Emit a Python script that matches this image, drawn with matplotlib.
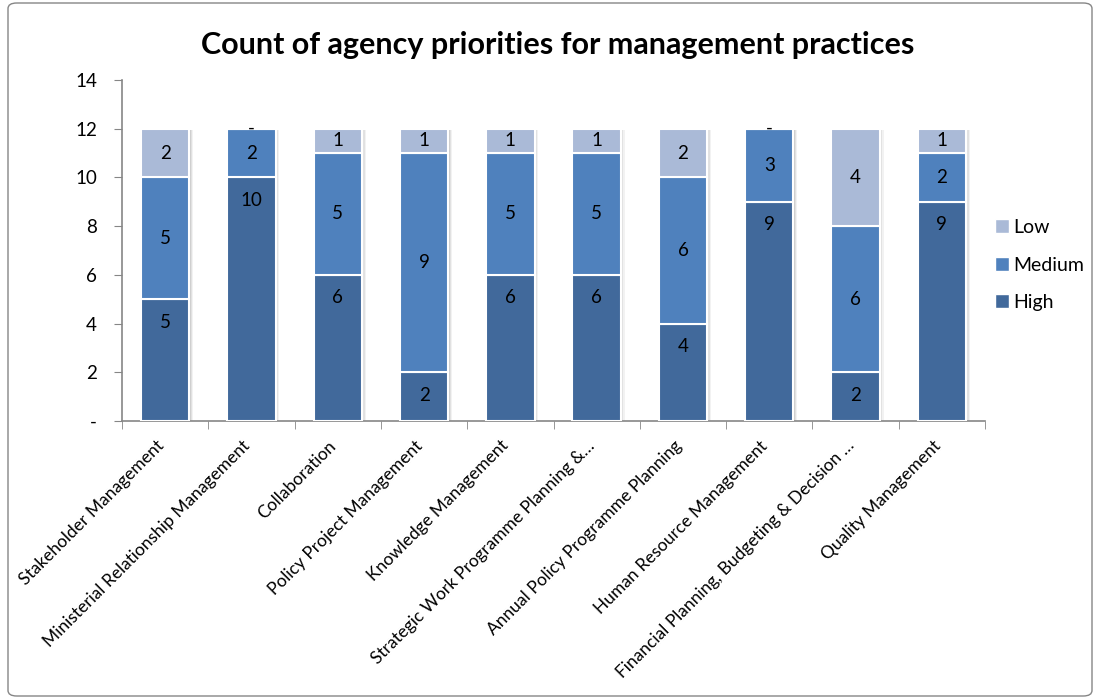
import matplotlib.pyplot as plt
import matplotlib.transforms as mtransforms
import numpy as np
from matplotlib.patches import FancyBboxPatch, Patch

plt.rcParams['font.family'] = ['Lato', 'DejaVu Sans']

categories = [
    "Stakeholder Management",
    "Ministerial Relationship Management",
    "Collaboration",
    "Policy Project Management",
    "Knowledge Management",
    "Strategic Work Programme Planning &\u2026",
    "Annual Policy Programme Planning",
    "Human Resource Management",
    "Financial Planning, Budgeting & Decision \u2026",
    "Quality Management",
]
high = [5, 10, 6, 2, 6, 6, 4, 9, 2, 9]
medium = [5, 2, 5, 9, 5, 5, 6, 3, 6, 2]
low = [2, 0, 1, 1, 1, 1, 2, 0, 4, 1]

# (name, values, colour, label placement)
series = [("High", high, "#41699b", "inside_end"),
          ("Medium", medium, "#4f81bd", "center"),
          ("Low", low, "#aabad7", "center")]

fig = plt.figure(figsize=(10.96, 6.99), dpi=100)
ax = fig.add_axes([122 / 1096, 1 - 421 / 699, (985 - 122) / 1096, (421 - 80) / 699])

x = np.arange(len(categories))
width = 0.56
totals = np.sum([high, medium, low], axis=0)

# soft drop shadow behind each stack
for dx, alpha in [(0.045, 0.10), (0.03, 0.15), (0.015, 0.2)]:
    ax.bar(x + dx, totals, width=width, bottom=-0.06, color="#808080", alpha=alpha,
           linewidth=0, zorder=2)

bottom = np.zeros(len(categories))
for name, vals, color, placement in series:
    vals = np.array(vals, dtype=float)
    ax.bar(x, vals, bottom=bottom, width=width, color=color, edgecolor="white",
           linewidth=1.5, label=name, zorder=3)
    for xi, b, v in zip(x, bottom, vals):
        txt = "-" if v == 0 else f"{int(v)}"
        if placement == "inside_end" and v > 0:
            ypos = b + v - 0.95
        else:
            ypos = b + v / 2
        ax.text(xi, ypos, txt, ha="center", va="center", fontsize=13.5, color="black", zorder=4)
    bottom += vals

ax.set_xlim(-0.5, len(categories) - 0.5)
ax.set_ylim(0, 14)
ax.set_yticks(range(0, 15, 2))
ax.set_yticklabels(["-"] + [str(v) for v in range(2, 15, 2)], fontsize=13.5)
ax.set_xticks(x)
ax.set_xticklabels(categories, rotation=45, ha="right", rotation_mode="anchor", fontsize=12.5)
ax.set_xticks(np.arange(-0.5, len(categories)), minor=True)
ax.tick_params(axis="x", which="major", length=0, pad=12)
ax.tick_params(axis="x", which="minor", length=6, color="#868686", direction="out")
ax.tick_params(axis="y", length=6, color="#868686", direction="out", pad=12)

# nudge the slanted category labels left so they end under the bar centres
shift = mtransforms.ScaledTranslation(-7 / 72, 0, fig.dpi_scale_trans)
for lbl in ax.get_xticklabels():
    lbl.set_transform(lbl.get_transform() + shift)

for side in ["top", "right"]:
    ax.spines[side].set_visible(False)
for side in ["left", "bottom"]:
    ax.spines[side].set_color("#868686")
    ax.spines[side].set_linewidth(1.2)

fig.text(558 / 1096, 1 - 45 / 699, "Count of agency priorities for management practices",
         ha="center", va="center", fontsize=22, fontweight="bold")

handles = [Patch(facecolor=c, edgecolor="white", label=n) for n, _, c, _ in reversed(series)]
fig.legend(handles=handles, loc="center left", bbox_to_anchor=(0.908, 1 - 265 / 699),
           frameon=False, fontsize=14, handlelength=0.7, handleheight=0.7,
           handletextpad=0.25, labelspacing=1.05, borderpad=0, borderaxespad=0)

border = FancyBboxPatch((8 / 1096, 3 / 699), 1084 / 1096, 693 / 699,
                        boxstyle="round,pad=0,rounding_size=0.008",
                        transform=fig.transFigure, fill=False, edgecolor="#868686", linewidth=1)
fig.patches.append(border)

fig.savefig("out.png", dpi=100)
